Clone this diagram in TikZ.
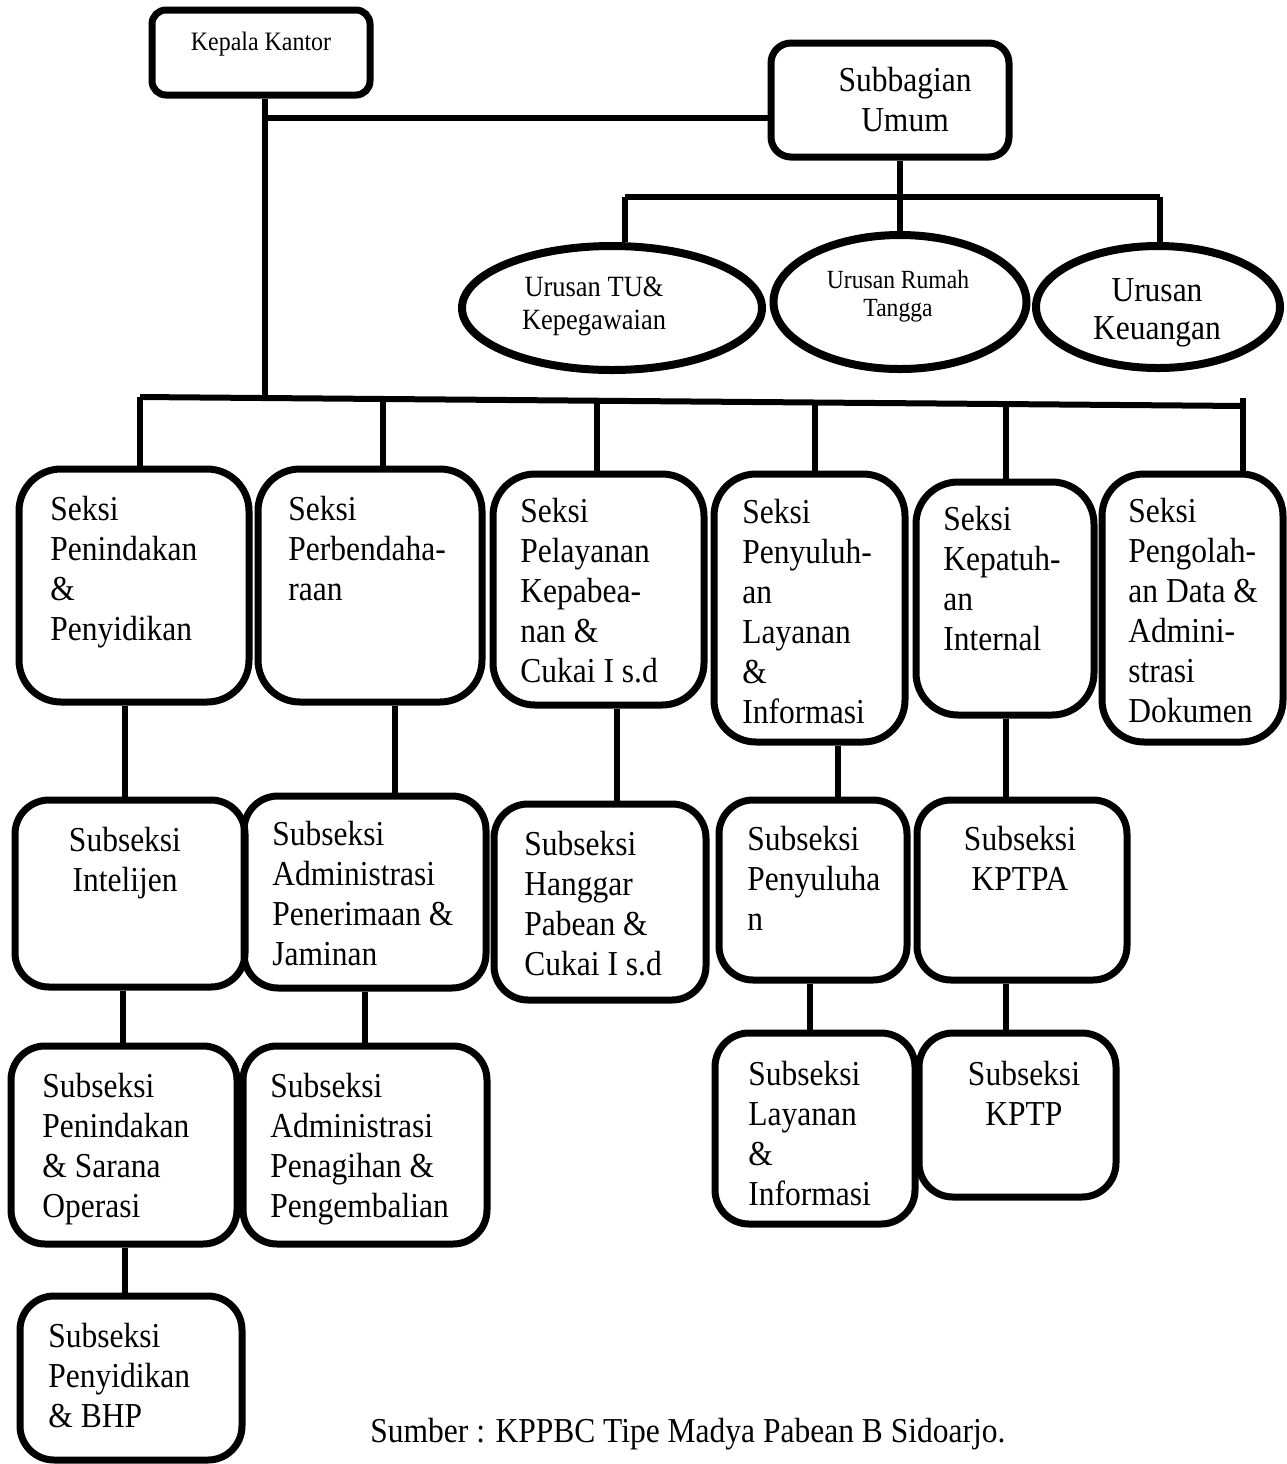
\documentclass[tikz,border=0pt]{standalone}
\usepackage{fontspec}
\setmainfont{Liberation Serif}[FakeStretch=0.9]
\usetikzlibrary{fit,shapes.geometric}
\newcommand\mainsize{\fontsize{17.5}{20}\selectfont}
\newcommand\lcol[1]{\begin{tabular}[t]{@{}l@{}}#1\end{tabular}}
\newcommand\ccol[1]{\begin{tabular}[t]{@{}c@{}}#1\end{tabular}}
\tikzset{
  unit/.style={draw, line width=3.5pt, inner sep=0pt},
  headbox/.style={unit, rounded corners=8pt},
  seksibox/.style={unit, rounded corners=21pt},
  subbox/.style={unit, rounded corners=17pt},
  oval/.style={ellipse, draw, line width=4pt, inner sep=0pt},
  link/.style={line width=3pt},
  txt/.style={inner sep=0pt, anchor=base west, font=\mainsize},
  ctxt/.style={inner sep=0pt, anchor=base, font=\mainsize}
}
\begin{document}
\begin{tikzpicture}[x=0.5pt, y=-0.5pt]
\useasboundingbox (0,0) rectangle (1287,1464);

% top level
\node[headbox, rounded corners=7pt, fit={(152,10) (370,95)}] (kepala) {};
\node[inner sep=0pt, anchor=base, font=\fontsize{13.3}{15}\selectfont] (tkepala) at (261,50) {Kepala Kantor};
\node[headbox, rounded corners=10pt, fit={(771,43) (1009,157)}] (umum) {};
\node[ctxt] (tumum) at (905,91) {\ccol{Subbagian\\Umum}};

% urusan
\node[oval, minimum width=150pt, minimum height=62pt] (u1) at (612,308) {};
\node[oval, minimum width=126.5pt, minimum height=67pt] (u2) at (900,302) {};
\node[oval, minimum width=122pt, minimum height=61pt] (u3) at (1158,307) {};
\node[inner sep=0pt, anchor=base, font=\fontsize{14.7}{16.5}\selectfont] (tu1) at (594,296) {\ccol{Urusan TU\&\\Kepegawaian}};
\node[inner sep=0pt, anchor=base, font=\fontsize{13.1}{14}\selectfont] (tu2) at (898,288) {\ccol{Urusan Rumah\\Tangga}};
\node[ctxt, font=\fontsize{17.5}{19}\selectfont] (tu3) at (1157,301) {\ccol{Urusan\\Keuangan}};

% seksi
\node[seksibox, fit={(19,469) (249,702)}] (s1) {};
\node[seksibox, fit={(258,469) (482,702)}] (s2) {};
\node[seksibox, fit={(493,474) (704,705)}] (s3) {};
\node[seksibox, fit={(714,474) (905,742)}] (s4) {};
\node[seksibox, fit={(916,482) (1094,715)}] (s5) {};
\node[seksibox, fit={(1102,474) (1283,742)}] (s6) {};
\node[txt] (ts1) at (50,520) {\lcol{Seksi\\Penindakan\\\&\\Penyidikan}};
\node[txt] (ts2) at (288,520) {\lcol{Seksi\\Perbendaha-\\raan}};
\node[txt] (ts3) at (520,522) {\lcol{Seksi\\Pelayanan\\Kepabea-\\nan \&\\Cukai I s.d}};
\node[txt] (ts4) at (742,523) {\lcol{Seksi\\Penyuluh-\\an\\Layanan\\\&\\Informasi}};
\node[txt] (ts5) at (943,530) {\lcol{Seksi\\Kepatuh-\\an\\Internal}};
\node[txt] (ts6) at (1128,522) {\lcol{Seksi\\Pengolah-\\an Data \&\\Admini-\\strasi\\Dokumen}};

% subseksi
\node[subbox, fit={(15,800) (245,987)}] (a) {};
\node[subbox, fit={(244,796) (486,988)}] (b) {};
\node[subbox, fit={(494,804) (706,1000)}] (c) {};
\node[subbox, fit={(719,800) (907,980)}] (d) {};
\node[subbox, fit={(917,800) (1127,980)}] (e) {};
\node[subbox, fit={(11,1046) (237,1244)}] (f) {};
\node[subbox, fit={(243,1046) (487,1244)}] (g) {};
\node[subbox, fit={(715,1033) (915,1224)}] (h) {};
\node[subbox, fit={(919,1033) (1116,1197)}] (i) {};
\node[subbox, fit={(20,1296) (242,1460)}] (j) {};
\node[ctxt] (ta) at (125,851) {\ccol{Subseksi\\Intelijen}};
\node[txt] (tb) at (272,845) {\lcol{Subseksi\\Administrasi\\Penerimaan \&\\Jaminan}};
\node[txt] (tc) at (524,855) {\lcol{Subseksi\\Hanggar\\Pabean \&\\Cukai I s.d}};
\node[txt] (td) at (747,850) {\lcol{Subseksi\\Penyuluha\\n}};
\node[ctxt] (te) at (1020,850) {\ccol{Subseksi\\KPTPA}};
\node[txt] (tf) at (42,1097) {\lcol{Subseksi\\Penindakan\\\& Sarana\\Operasi}};
\node[txt] (tg) at (270,1097) {\lcol{Subseksi\\Administrasi\\Penagihan \&\\Pengembalian}};
\node[txt] (th) at (748,1085) {\lcol{Subseksi\\Layanan\\\&\\Informasi}};
\node[ctxt] (ti) at (1024,1085) {\ccol{Subseksi\\KPTP}};
\node[txt] (tj) at (48,1347) {\lcol{Subseksi\\Penyidikan\\\& BHP}};

\node[txt] (src) at (370,1442) {Sumber : KPPBC Tipe Madya Pabean B Sidoarjo.};

% connectors: head and general affairs
\coordinate (busL) at (140,397);
\coordinate (busR) at (1245,406);
\coordinate (spine) at (265,398);
\draw[link] (265,0 |- kepala.south) -- (spine);
\draw[link] (265,118) -- (265,118 -| umum.west);
\draw[link] (900,0 |- umum.south) -- (900,0 |- u2.north);
\coordinate (ubarL) at (625,197);
\coordinate (ubarR) at (1160,197);
\draw[link] (ubarL) -- (ubarR);
\draw[link] (ubarL) -- (625,0 |- u1.north);
\draw[link] (ubarR) -- (1160,0 |- u3.north);

% main bus and drops to each seksi
\draw[link] (busL) -- (busR);
\draw[link] (busL) -- (140,0 |- s1.north);
\draw[link] (383,399) -- (383,0 |- s2.north);
\draw[link] (597,401) -- (597,0 |- s3.north);
\draw[link] (815,402) -- (815,0 |- s4.north);
\draw[link] (1006,404) -- (1006,0 |- s5.north);
\draw[link] (1243,398) -- (1243,0 |- s6.north);

% seksi to subseksi
\draw[link] (125,0 |- s1.south) -- (125,0 |- a.north);
\draw[link] (395,0 |- s2.south) -- (395,0 |- b.north);
\draw[link] (617,0 |- s3.south) -- (617,0 |- c.north);
\draw[link] (838,0 |- s4.south) -- (838,0 |- d.north);
\draw[link] (1006,0 |- s5.south) -- (1006,0 |- e.north);
\draw[link] (123,0 |- a.south) -- (123,0 |- f.north);
\draw[link] (365,0 |- b.south) -- (365,0 |- g.north);
\draw[link] (810,0 |- d.south) -- (810,0 |- h.north);
\draw[link] (1006,0 |- e.south) -- (1006,0 |- i.north);
\draw[link] (125,0 |- f.south) -- (125,0 |- j.north);
\end{tikzpicture}
\end{document}
